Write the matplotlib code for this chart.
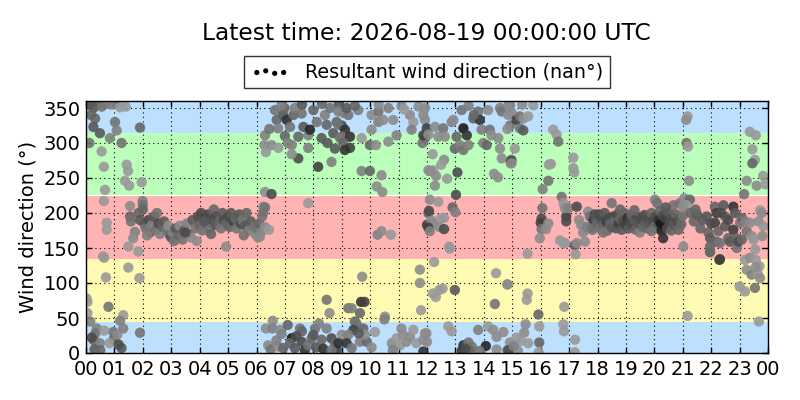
import matplotlib
matplotlib.use("Agg")
import matplotlib.pyplot as plt
import matplotlib.dates as mdates
from datetime import datetime, timedelta

# ---------------- data (hour of day, direction deg, gray shade 0=black 1=white)
block_00_02 = [
    (0.10,355,.30),(0.40,358,.35),(0.70,356,.45),(1.05,358,.30),(0.26,350,.35),(0.55,352,.45),
    (0.90,355,.50),(1.20,351,.60),(1.40,352,.60),(0.32,335,.40),(0.26,323,.35),(0.49,314,.35),
    (0.84,307,.50),(1.02,330,.45),(1.08,318,.50),(1.25,300,.45),(1.90,322,.40),(0.55,288,.60),
    (0.63,266,.60),(1.43,269,.60),(1.48,260,.60),(0.67,233,.60),(1.37,246,.60),(1.52,239,.60),
    (1.96,244,.60),(0.63,217,.60),(1.99,217,.50),(2.00,212,.45),(1.55,210,.55),(0.73,186,.60),
    (0.73,176,.60),(1.55,195,.40),(1.58,188,.45),(1.72,173,.50),(1.66,164,.55),(1.84,145,.60),
    (0.60,138,.60),(0.64,136,.60),(1.49,152,.60),(2.00,205,.40),(1.49,122,.60),(0.70,108,.60),
    (1.88,107,.60),(0.02,78,.60),(0.05,73,.60),(0.79,66,.45),(1.31,54,.60),(1.20,46,.50),
    (0.05,57,.60),(0.38,35,.50),(0.33,28,.45),(0.28,18,.40),(0.49,14,.50),(0.30,5,.35),
    (0.50,4,.40),(0.96,30,.45),(0.98,20,.40),(1.25,7,.35),(1.10,26,.55),(1.90,29,.45),
    (1.31,35,.50),(0.83,14,.60),(0.64,32,.60),(0.15,45,.50),(1.15,12,.30),(0.20,22,.30),
    (1.85,200,.40),(1.90,190,.35),(0.12,300,.45),(0.18,340,.40),
]
block_02_06 = [
    (2.05,185,.35),(2.10,178,.45),(2.20,190,.30),(2.25,172,.40),(2.30,182,.50),(2.40,195,.35),
    (2.45,176,.45),(2.55,185,.30),(2.60,170,.50),(2.70,180,.40),(2.75,188,.35),(2.85,175,.45),
    (2.90,182,.55),(2.95,168,.40),(3.00,165,.35),(3.05,172,.50),(3.10,160,.45),(3.15,178,.35),
    (3.25,168,.40),(3.30,182,.55),(3.40,162,.45),(3.45,175,.35),(3.55,185,.50),(3.60,170,.40),
    (3.70,165,.55),(3.75,190,.35),(3.85,178,.45),(3.90,160,.55),(3.95,195,.30),(4.00,182,.40),
    (4.05,200,.30),(4.10,175,.45),(4.20,192,.25),(4.25,185,.35),(4.30,198,.30),(4.35,178,.45),
    (4.45,190,.30),(4.50,205,.40),(4.55,183,.35),(4.60,195,.30),(4.70,188,.40),(4.75,178,.45),
    (4.80,200,.35),(4.85,190,.30),(4.95,185,.40),(4.93,152,.55),(5.00,195,.30),(5.05,180,.40),
    (5.10,200,.35),(5.20,188,.25),(5.25,192,.40),(5.30,178,.45),(5.40,198,.35),(5.45,185,.30),
    (5.50,190,.45),(5.60,182,.35),(5.65,200,.40),(5.75,175,.50),(5.80,188,.35),(5.90,180,.45),
    (5.95,170,.55),(6.00,178,.45),(6.05,165,.55),(6.10,185,.40),(6.15,172,.50),(6.20,195,.45),
    (6.30,180,.55),(6.24,209,.55),(6.30,208,.45),(6.24,201,.45),(6.44,176,.60),(6.12,166,.55),
    (2.50,200,.45),(3.50,172,.30),(4.40,170,.40),(5.55,168,.45),(2.15,168,.50),(4.15,188,.35),
]
block_06_09 = [
    (6.30,230,.55),(6.53,227,.30),(7.82,214,.60),(6.30,311,.50),(6.28,297,.55),(6.33,287,.60),
    (6.53,297,.55),(6.77,293,.60),(6.65,347,.45),(6.71,333,.40),(6.76,321,.50),(6.94,340,.35),
    (7.06,333,.20),(6.99,350,.40),(6.88,354,.50),(7.18,323,.45),(7.30,340,.40),(7.35,350,.50),
    (7.47,309,.40),(7.24,297,.50),(7.47,278,.30),(7.24,284,.55),(7.59,342,.45),(7.65,323,.35),
    (7.82,311,.50),(7.88,319,.15),(7.82,293,.50),(8.00,347,.40),(8.12,330,.45),(8.29,307,.35),
    (8.17,266,.25),(8.41,340,.50),(8.47,326,.40),(8.59,350,.45),(8.70,314,.35),(8.64,273,.50),
    (8.76,292,.35),(8.82,330,.40),(8.94,307,.45),(9.00,325,.30),(9.05,344,.50),(6.45,320,.45),
    (7.00,310,.40),(7.60,355,.35),(8.30,356,.40),(8.90,356,.35),(7.10,300,.50),(8.50,300,.35),
    (6.57,46,.55),(6.33,35,.55),(6.56,35,.50),(6.83,33,.55),(6.88,27,.50),(6.41,11,.55),
    (6.50,5,.45),(6.77,9,.55),(6.94,7,.40),(7.24,21,.10),(7.18,14,.40),(7.35,7,.35),
    (7.53,35,.45),(7.60,31,.40),(7.59,16,.30),(7.70,4,.20),(7.82,11,.45),(7.94,21,.40),
    (8.06,35,.45),(8.10,8,.35),(8.29,19,.40),(8.35,6,.20),(8.47,35,.50),(8.64,21,.30),
    (8.76,14,.40),(8.82,4,.25),(8.64,4,.45),(8.47,76,.45),(8.57,57,.55),(7.40,24,.30),
    (8.00,26,.35),(6.70,18,.50),(7.10,40,.40),(8.20,42,.50),
]
block_09_12 = [
    (8.88,326,.45),(9.11,319,.20),(9.00,309,.45),(9.29,309,.20),(9.05,300,.40),(9.29,293,.25),
    (9.11,290,.20),(8.88,345,.50),(9.23,340,.45),(9.58,347,.50),(9.17,350,.35),(9.46,353,.40),
    (9.70,260,.50),(9.99,260,.40),(10.40,254,.55),(10.23,238,.55),(10.43,230,.55),(9.70,307,.60),
    (9.99,297,.40),(10.20,297,.55),(10.05,340,.55),(10.29,330,.50),(10.46,333,.55),(10.29,345,.45),
    (10.64,350,.50),(10.81,333,.55),(10.93,311,.50),(10.64,302,.55),(10.05,319,.55),(11.10,353,.55),
    (11.40,340,.55),(11.52,330,.60),(11.46,319,.50),(11.93,333,.55),(11.93,307,.40),(11.84,300,.45),
    (12.05,261,.55),(10.26,169,.50),(10.40,174,.55),(10.73,169,.60),(12.05,200,.40),(12.00,183,.25),
    (9.72,109,.55),(11.75,119,.55),(11.75,100,.55),(11.79,61,.60),(9.68,73,.20),(9.80,73,.25),
    (9.23,64,.45),(9.35,64,.50),(9.64,57,.40),(10.52,52,.55),(10.50,48,.50),(9.46,45,.40),
    (9.52,42,.45),(9.76,35,.40),(9.41,33,.25),(9.00,26,.55),(9.23,26,.50),(8.88,14,.20),
    (9.17,14,.20),(9.35,7,.45),(9.64,16,.50),(9.88,16,.40),(9.82,26,.55),(10.17,30,.60),
    (10.05,8,.55),(10.76,14,.55),(10.93,21,.60),(11.10,35,.55),(11.16,26,.55),(11.05,11,.60),
    (11.28,16,.55),(11.40,23,.55),(11.63,14,.60),(11.93,28,.55),(12.00,16,.55),(11.87,2,.20),
    (11.52,33,.60),(9.60,28,.35),(10.30,355,.55),(11.20,348,.60),(11.70,352,.55),(10.80,4,.50),
]
block_12_15 = [
    (11.93,350,.55),(11.87,340,.55),(11.99,321,.25),(11.87,311,.25),(12.05,312,.55),(12.28,323,.55),
    (12.40,309,.55),(12.57,321,.45),(12.63,309,.55),(12.87,330,.50),(12.93,333,.55),(13.04,309,.40),
    (12.98,292,.40),(13.28,321,.10),(13.40,311,.20),(13.16,297,.50),(13.28,290,.45),(13.46,297,.50),
    (13.22,347,.45),(13.46,353,.50),(13.63,335,.40),(13.80,345,.45),(13.86,333,.20),(13.92,319,.50),
    (13.98,300,.50),(14.10,297,.40),(14.15,347,.55),(14.21,319,.45),(14.27,311,.55),(14.57,350,.50),
    (14.63,345,.45),(14.51,307,.55),(14.57,292,.55),(14.63,278,.55),(14.92,354,.50),(14.86,340,.55),
    (14.92,325,.45),(14.98,276,.55),(14.94,271,.55),(12.20,284,.60),(12.60,276,.55),(12.50,269,.60),
    (12.22,261,.60),(12.12,260,.55),(12.32,253,.55),(12.71,249,.60),(13.07,258,.30),(12.28,239,.55),
    (14.36,256,.55),(14.50,251,.55),(13.02,226,.30),(12.10,219,.55),(12.40,216,.60),(12.90,208,.40),
    (13.00,201,.50),(12.07,203,.30),(12.16,189,.55),(12.24,185,.55),(12.05,179,.25),(12.10,174,.50),
    (12.48,192,.60),(12.60,193,.60),(12.43,180,.55),(12.60,177,.30),(12.78,152,.60),(12.80,149,.60),
    (12.25,130,.60),(14.43,114,.60),(14.83,98,.55),(12.55,92,.60),(12.43,90,.60),(12.98,90,.35),
    (12.21,85,.60),(12.31,80,.60),(14.39,70,.45),(11.98,28,.55),(12.75,38,.60),(12.87,31,.60),
    (13.80,33,.50),(14.15,38,.60),(14.33,33,.55),(14.69,30,.55),(14.45,23,.55),(13.28,11,.20),
    (13.46,15,.45),(13.58,9,.45),(13.22,3,.20),(13.52,3,.40),(14.07,10,.15),(13.86,3,.45),
    (14.45,5,.55),(14.83,4,.50),(14.92,15,.55),(11.87,19,.55),(13.35,6,.30),(13.65,340,.40),
]
block_15_18 = [
    (14.86,354,.55),(14.98,343,.55),(15.15,333,.25),(15.27,338,.45),(15.39,335,.55),(15.56,338,.60),
    (15.27,321,.45),(15.39,318,.35),(14.83,320,.55),(15.74,354,.60),(16.44,319,.60),(16.56,312,.60),
    (16.62,302,.45),(15.09,292,.60),(14.96,275,.30),(14.98,271,.55),(16.29,269,.60),(16.36,270,.60),
    (17.15,279,.60),(17.15,264,.60),(17.18,258,.60),(16.27,246,.45),(16.07,234,.50),(16.74,223,.45),
    (16.80,214,.60),(16.06,207,.45),(16.03,192,.30),(16.00,186,.25),(16.03,177,.45),(15.97,164,.55),
    (16.19,177,.55),(16.27,185,.55),(16.90,195,.25),(16.90,188,.30),(16.85,207,.55),(16.98,207,.50),
    (16.68,161,.60),(16.80,157,.60),(16.86,157,.60),(17.27,209,.30),(17.20,154,.35),(17.27,157,.55),
    (17.23,141,.60),(15.54,142,.60),(17.35,190,.55),(17.42,183,.55),(17.55,176,.50),(17.49,172,.55),
    (17.56,159,.55),(17.67,202,.55),(17.73,195,.45),(17.85,190,.25),(17.90,198,.30),(17.79,180,.25),
    (17.96,183,.40),(17.62,180,.50),(17.82,176,.45),(14.83,98,.55),(15.54,85,.60),(15.51,76,.60),
    (16.83,66,.60),(15.92,55,.40),(15.47,41,.55),(15.42,29,.55),(15.15,22,.60),(15.30,17,.60),
    (15.56,14,.60),(15.20,3,.55),(14.86,4,.30),(15.95,38,.60),(15.95,15,.40),(15.93,1,.60),
    (16.80,41,.60),(16.82,31,.60),(17.21,19,.60),(17.20,1,.60),(15.05,10,.50),(15.35,355,.55),
]
block_18_21 = [
    (17.95,192,.35),(18.00,185,.40),(18.05,198,.30),(18.10,178,.45),(18.15,190,.30),(18.20,183,.40),
    (18.25,200,.35),(18.30,188,.25),(18.35,175,.40),(18.40,193,.30),(18.45,185,.40),(18.50,214,.45),
    (18.50,180,.35),(18.55,195,.30),(18.60,188,.40),(18.65,178,.35),(18.70,198,.30),(18.75,185,.25),
    (18.80,192,.40),(18.85,176,.35),(18.90,188,.30),(18.95,200,.40),(19.00,183,.25),(19.05,193,.20),
    (19.10,178,.35),(19.15,188,.30),(19.20,198,.40),(19.25,182,.30),(19.30,190,.35),(19.35,176,.40),
    (19.40,195,.30),(19.45,185,.35),(19.49,172,.50),(19.55,190,.30),(19.60,180,.40),(19.65,197,.30),
    (19.70,186,.35),(19.75,178,.40),(19.80,192,.30),(19.85,184,.35),(19.90,200,.40),(19.95,188,.30),
    (20.00,180,.40),(20.02,219,.50),(20.05,195,.30),(20.10,214,.45),(20.12,178,.35),(20.15,190,.20),
    (20.20,203,.40),(20.22,185,.10),(20.25,175,.15),(20.30,196,.30),(20.31,164,.20),(20.35,182,.10),
    (20.40,192,.25),(20.45,178,.30),(20.50,200,.35),(20.55,186,.30),(20.60,175,.40),(20.65,193,.30),
    (20.67,211,.45),(20.70,183,.35),(20.75,198,.40),(20.80,188,.30),(20.85,176,.40),(20.90,214,.45),
    (20.90,192,.35),(20.95,184,.40),(21.00,196,.45),(18.20,172,.45),(18.80,205,.40),(19.30,204,.40),
    (19.90,174,.45),(20.40,208,.35),
]
block_21_24 = [
    (21.17,338,.60),(21.12,333,.55),(23.36,316,.60),(23.57,311,.60),(21.13,300,.45),(21.19,295,.60),
    (23.45,291,.60),(23.54,276,.60),(23.45,271,.40),(23.83,253,.60),(21.22,246,.55),(23.25,246,.55),
    (23.60,239,.55),(23.90,241,.60),(23.16,227,.45),(21.05,221,.55),(21.25,219,.40),(21.13,211,.60),
    (21.00,209,.55),(21.27,200,.40),(21.39,188,.40),(21.50,198,.35),(21.62,178,.40),(21.84,195,.35),
    (21.90,172,.40),(21.96,164,.35),(21.96,152,.40),(21.96,145,.45),(22.13,209,.40),(22.19,200,.25),
    (22.13,186,.25),(22.25,174,.40),(22.19,159,.40),(22.31,157,.45),(22.31,134,.25),(22.43,211,.35),
    (22.49,195,.40),(22.49,181,.35),(22.60,164,.40),(22.66,159,.35),(22.78,209,.20),(22.84,200,.35),
    (22.78,176,.25),(22.90,164,.40),(22.90,150,.45),(23.02,186,.45),(23.08,193,.40),(22.96,159,.30),
    (23.08,162,.40),(23.20,188,.50),(23.25,174,.45),(23.37,186,.55),(23.43,167,.55),(23.49,162,.60),
    (23.55,148,.60),(23.67,188,.55),(23.72,204,.60),(23.78,200,.55),(23.84,181,.60),(23.80,167,.55),
    (21.02,152,.55),(21.96,144,.40),(22.29,133,.25),(23.19,133,.60),(23.36,136,.55),(23.57,133,.60),
    (23.25,119,.55),(23.42,112,.50),(23.64,114,.60),(23.70,124,.60),(23.57,123,.55),(23.72,107,.55),
    (23.54,93,.45),(23.00,95,.60),(23.19,88,.60),(23.68,45,.60),(21.17,53,.60),(21.70,190,.35),
    (22.00,185,.30),(22.60,190,.30),(21.45,205,.40),(22.35,200,.30),
]

band_edges = [0, 45, 135, 225, 315, 360]
band_colors = ["#bde0ff", "#fffbb3", "#ffb3b3", "#bbffbb", "#bde0ff"]
ytick_values = [0, 50, 100, 150, 200, 250, 300, 350]
title_text = "Latest time: 2026-08-19 00:00:00 UTC"
legend_label = "Resultant wind direction (nan°)"

# ---------------- plotting
plt.rcParams["font.family"] = "DejaVu Sans"
plt.rcParams["font.size"] = 12

points = (block_00_02 + block_02_06 + block_06_09 + block_09_12 +
          block_12_15 + block_15_18 + block_18_21 + block_21_24)
base = datetime(2026, 8, 18)
times = [base + timedelta(hours=p[0]) for p in points]
dirs = [p[1] for p in points]
shades = [p[2] for p in points]

fig = plt.figure(figsize=(8, 4), dpi=100, facecolor="white")
ax = fig.add_axes([0.1075, 0.1175, 0.8525, 0.63])

for lo, hi, col in zip(band_edges[:-1], band_edges[1:], band_colors):
    ax.axhspan(lo, hi, color=col, lw=0, zorder=0)

ax.scatter(times, dirs, c=shades, cmap="gray", vmin=0, vmax=1, s=55,
           edgecolors="none", alpha=0.9, zorder=3)
ax.scatter([], [], c="k", s=14, edgecolors="none", label=legend_label)

ax.set_xlim(base, base + timedelta(hours=24))
ax.set_ylim(0, 360)
ax.set_yticks(ytick_values)
ax.xaxis.set_major_locator(mdates.HourLocator(interval=1))
ax.xaxis.set_major_formatter(mdates.DateFormatter("%H"))
ax.tick_params(direction="in", top=True, right=True, length=4, width=1,
               labelsize=14)
ax.tick_params(axis="x", pad=5)
ax.tick_params(axis="y", pad=4)
ax.grid(True, color="k", linestyle=(0, (1, 3)), linewidth=0.8, zorder=1)
ax.set_axisbelow(False)
for sp in ax.spines.values():
    sp.set_linewidth(1)
    sp.set_zorder(5)
ax.set_ylabel("Wind direction (°)", fontsize=14)

leg = ax.legend(loc="center", bbox_to_anchor=(0.5, 1.115), scatterpoints=4,
                fontsize=13.8, frameon=True, fancybox=False, borderpad=0.35,
                handletextpad=0.8, handlelength=2.0)
leg.get_frame().set_edgecolor("k")
leg.get_frame().set_linewidth(1)

fig.text(0.5335, 0.915, title_text, ha="center", va="center", fontsize=16.8)

fig.savefig("out.png", dpi=100, facecolor="white")
